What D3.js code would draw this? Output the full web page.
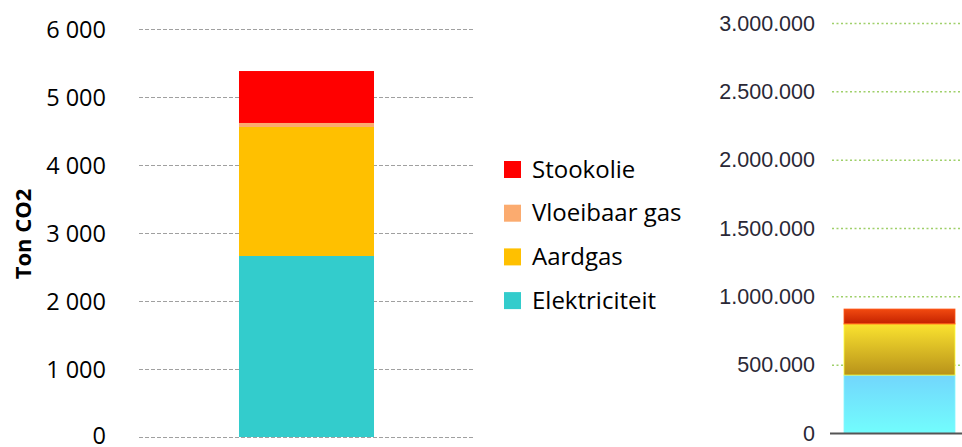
<!DOCTYPE html>
<html>
<head>
<meta charset="utf-8">
<script src="https://cdn.jsdelivr.net/npm/d3@7"></script>
<style>
  body { margin: 0; background: #fff; }
  svg { display: block; }
</style>
</head>
<body>
<div id="chart"></div>
<script>

// data
const series = ["Elektriciteit", "Aardgas", "Vloeibaar gas", "Stookolie"];
const leftValues = [2662, 1897, 59, 764];
const leftTicks = [0, 1000, 2000, 3000, 4000, 5000, 6000];
const rightValues = [424000, 370000, 6000, 107000];
const rightTicks = [0, 500000, 1000000, 1500000, 2000000, 2500000, 3000000];
const legendOrder = ["Stookolie", "Vloeibaar gas", "Aardgas", "Elektriciteit"];

const colors = {
  "Elektriciteit": "#33cccc",
  "Aardgas": "#ffc000",
  "Vloeibaar gas": "#fbab6f",
  "Stookolie": "#ff0000"
};
const gradients = {
  "Elektriciteit": ["#72d6fc", "#72fdfd"],
  "Aardgas": ["#fae22f", "#b8921a"],
  "Vloeibaar gas": ["#f7a020", "#f08818"],
  "Stookolie": ["#f24a10", "#c42200"]
};

const fontLeft = "'Open Sans', Carlito, Calibri, sans-serif";

const svg = d3.select("#chart").append("svg")
  .attr("width", 962)
  .attr("height", 447);

const fmtLeft = d => d3.format(",")(d).replace(/,/g, " ");
const fmtRight = d => d3.format(",")(d).replace(/,/g, ".");

function stackRows(values) {
  let row = {};
  series.forEach((s, i) => row[s] = values[i]);
  return d3.stack().keys(series)([row]);
}


//--------------------------------------
// LEFT CHART
//--------------------------------------

const yL = d3.scaleLinear().domain([0, 6000]).range([437, 29]);
const xL = d3.scaleBand().domain(["a"]).range([139, 474]).paddingInner(0).paddingOuter(0.7407);

let left = svg.append("g");

left.append("g")
  .selectAll("line")
  .data(leftTicks)
  .enter().append("line")
  .attr("x1", 139).attr("x2", 474)
  .attr("y1", d => yL(d) + 0.5).attr("y2", d => yL(d) + 0.5)
  .attr("stroke", "#a0a0a0")
  .attr("stroke-dasharray", "4,2");

left.append("g")
  .selectAll("text")
  .data(leftTicks)
  .enter().append("text")
  .attr("x", 106)
  .attr("y", d => Math.min(yL(d) + 9, 444))
  .attr("text-anchor", "end")
  .attr("font-family", fontLeft)
  .attr("font-size", 23.5)
  .attr("fill", "#000")
  .text(fmtLeft);

left.append("text")
  .attr("transform", "translate(31,234) rotate(-90)")
  .attr("text-anchor", "middle")
  .attr("font-family", fontLeft)
  .attr("font-weight", "bold")
  .attr("font-size", 22)
  .attr("fill", "#000")
  .text("Ton CO2");

left.append("g")
  .selectAll("rect")
  .data(stackRows(leftValues))
  .enter().append("rect")
  .attr("x", xL("a"))
  .attr("width", xL.bandwidth())
  .attr("y", d => yL(d[0][1]))
  .attr("height", d => yL(d[0][0]) - yL(d[0][1]))
  .attr("fill", d => colors[d.key]);

// legend
let legend = svg.append("g");
legendOrder.forEach(function (name, i) {
  let y = 169 + i * 43.7;
  legend.append("rect")
    .attr("x", 504).attr("y", y - 8)
    .attr("width", 17).attr("height", 17)
    .attr("fill", colors[name]);
  legend.append("text")
    .attr("x", 532).attr("y", y + 8.5)
    .attr("font-family", fontLeft)
    .attr("font-size", 24)
    .attr("fill", "#000")
    .text(name);
});


//--------------------------------------
// RIGHT CHART
//--------------------------------------

const yR = d3.scaleLinear().domain([0, 3000000]).range([433, 23]);

let defs = svg.append("defs");
series.forEach(function (s, i) {
  let g = defs.append("linearGradient")
    .attr("id", "grad" + i)
    .attr("x1", 0).attr("y1", 0).attr("x2", 0).attr("y2", 1);
  g.append("stop").attr("offset", "0%").attr("stop-color", gradients[s][0]);
  g.append("stop").attr("offset", "100%").attr("stop-color", gradients[s][1]);
});

let right = svg.append("g");

right.append("g")
  .selectAll("line")
  .data(rightTicks.filter(d => d > 0))
  .enter().append("line")
  .attr("x1", 832).attr("x2", 962)
  .attr("y1", d => yR(d) + 0.5).attr("y2", d => yR(d) + 0.5)
  .attr("stroke", "#9fd06a")
  .attr("stroke-width", 1.5)
  .attr("stroke-dasharray", "2,2.5");

right.append("g")
  .selectAll("text")
  .data(rightTicks)
  .enter().append("text")
  .attr("x", 815)
  .attr("y", d => yR(d) + 7.5)
  .attr("text-anchor", "end")
  .attr("font-family", "'Liberation Sans', Arial, sans-serif")
  .attr("font-size", 21.5)
  .attr("fill", "#2a2836")
  .text(fmtRight);

right.append("g")
  .selectAll("rect")
  .data(stackRows(rightValues))
  .enter().append("rect")
  .attr("x", 844)
  .attr("width", 111)
  .attr("y", d => yR(d[0][1]))
  .attr("height", d => yR(d[0][0]) - yR(d[0][1]))
  .attr("fill", (d, i) => "url(#grad" + i + ")")
  .attr("stroke", (d) => d3.color(gradients[d.key][0]).brighter(0.4))
  .attr("stroke-width", 0.8);

right.append("line")
  .attr("x1", 830).attr("x2", 962)
  .attr("y1", 433.5).attr("y2", 433.5)
  .attr("stroke", "#555")
  .attr("stroke-width", 2);

</script>
</body>
</html>
